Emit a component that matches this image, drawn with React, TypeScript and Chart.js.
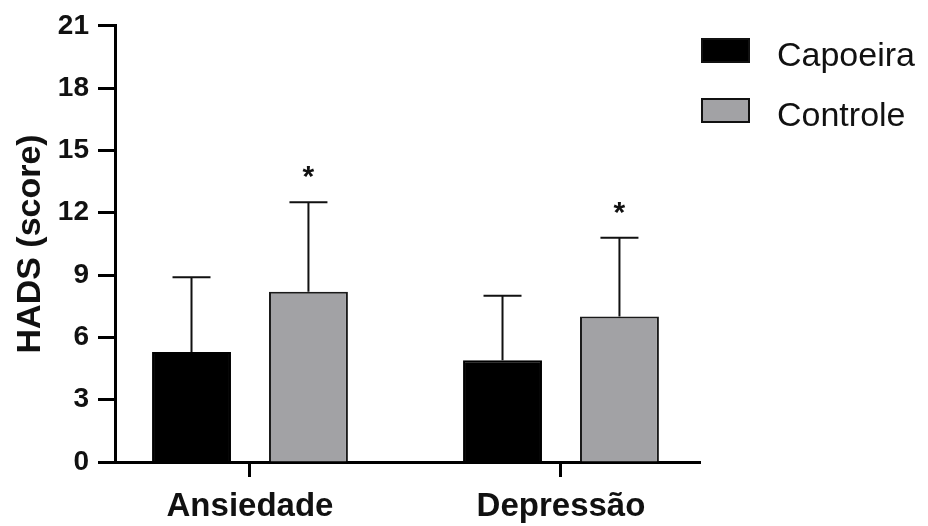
import React, { useEffect, useRef } from 'react';
import { Chart, registerables } from 'chart.js';

Chart.register(...registerables);

const categories = ['Ansiedade', 'Depressão'];
const seriesNames = ['Capoeira', 'Controle'];
const capoeiraMean = [5.3, 4.9];
const capoeiraSD = [3.6, 3.1];
const controleMean = [8.2, 7.0];
const controleSD = [4.3, 3.8];
const controleSignificant = [true, true];
const yTicks = [0, 3, 6, 9, 12, 15, 18, 21];

const FONT = "'Liberation Sans', Arial, Helvetica, sans-serif";

const errorBarPlugin = {
  id: 'errorBars',
  afterDatasetsDraw(chart: any) {
    const { ctx } = chart;
    const y = chart.scales.y;
    chart.data.datasets.forEach((ds: any, di: number) => {
      const meta = chart.getDatasetMeta(di);
      meta.data.forEach((bar: any, i: number) => {
        const mean = ds.data[i].y;
        const sd = ds.sd[i];
        const yBar = y.getPixelForValue(mean);
        const yTop = y.getPixelForValue(mean + sd);
        ctx.save();
        ctx.strokeStyle = '#111';
        ctx.lineWidth = 2;
        ctx.beginPath();
        ctx.moveTo(bar.x, yBar);
        ctx.lineTo(bar.x, yTop);
        ctx.moveTo(bar.x - 19, yTop);
        ctx.lineTo(bar.x + 19, yTop);
        ctx.stroke();
        if (ds.sig && ds.sig[i]) {
          ctx.fillStyle = '#111';
          ctx.font = `bold 30px ${FONT}`;
          ctx.textAlign = 'center';
          ctx.textBaseline = 'alphabetic';
          ctx.fillText('*', bar.x, yTop - 16);
        }
        ctx.restore();
      });
    });
  },
};

const legendPlugin = {
  id: 'customLegend',
  afterDraw(chart: any) {
    const { ctx } = chart;
    chart.data.datasets.forEach((ds: any, i: number) => {
      const bx = 701;
      const by = 38 + i * 60;
      ctx.save();
      ctx.fillStyle = ds.backgroundColor;
      ctx.fillRect(bx, by, 49, 25);
      ctx.strokeStyle = '#111';
      ctx.lineWidth = 2;
      ctx.strokeRect(bx + 1, by + 1, 47, 23);
      ctx.fillStyle = '#111';
      ctx.font = `34px ${FONT}`;
      ctx.textAlign = 'left';
      ctx.textBaseline = 'alphabetic';
      ctx.fillText(ds.label, 777, by + 28);
      ctx.restore();
    });
  },
};

export default function App() {
  const canvasRef = useRef<HTMLCanvasElement | null>(null);

  useEffect(() => {
    document.body.style.margin = '0';
    const canvas = canvasRef.current;
    if (!canvas) return;
    const chart = new Chart(canvas, {
      type: 'bar',
      data: {
        datasets: [
          {
            label: seriesNames[0],
            data: categories.map((_, i) => ({ x: i, y: capoeiraMean[i] })),
            sd: capoeiraSD,
            backgroundColor: '#000000',
            borderColor: '#000000',
            borderWidth: 2,
            borderSkipped: 'bottom',
          } as any,
          {
            label: seriesNames[1],
            data: categories.map((_, i) => ({ x: i, y: controleMean[i] })),
            sd: controleSD,
            sig: controleSignificant,
            backgroundColor: '#a2a2a5',
            borderColor: '#1a1a1a',
            borderWidth: 2,
            borderSkipped: 'bottom',
          } as any,
        ],
      },
      options: {
        animation: false,
        responsive: false,
        maintainAspectRatio: false,
        devicePixelRatio: 1,
        categoryPercentage: 0.752,
        barPercentage: 0.675,
        layout: { padding: { left: 0, top: 22, right: 228, bottom: 0 } },
        plugins: {
          legend: { display: false },
          tooltip: { enabled: false },
        },
        scales: {
          x: {
            type: 'linear',
            offset: false,
            min: -0.434,
            max: 1.447,
            afterBuildTicks: (scale: any) => {
              scale.ticks = categories.map((_, i) => ({ value: i }));
            },
            afterFit: (scale: any) => {
              scale.height = 64;
            },
            border: { display: true, color: '#000', width: 3 },
            grid: {
              display: true,
              offset: false,
              drawOnChartArea: false,
              drawTicks: true,
              tickLength: 15,
              tickWidth: 3,
              tickColor: '#000',
              color: '#000',
            },
            ticks: {
              padding: 10,
              color: '#111',
              font: { family: FONT, size: 33, weight: 'bold' },
              maxRotation: 0,
              autoSkip: false,
              callback: (v: any) => categories[v as number] ?? '',
            },
          } as any,
          y: {
            min: 0,
            max: 21,
            afterBuildTicks: (scale: any) => {
              scale.ticks = yTicks.map((v) => ({ value: v }));
            },
            afterFit: (scale: any) => {
              scale.width = 115;
            },
            border: { display: true, color: '#000', width: 3 },
            grid: {
              display: true,
              drawOnChartArea: false,
              drawTicks: true,
              tickLength: 17,
              tickWidth: 3,
              tickColor: '#000',
              color: '#000',
            },
            ticks: {
              padding: 9,
              color: '#111',
              font: { family: FONT, size: 28, weight: 'bold' },
              autoSkip: false,
            },
            title: {
              display: true,
              text: 'HADS (score)',
              color: '#111',
              font: { family: FONT, size: 34, weight: 'bold' },
              padding: { top: 10, bottom: 0 },
            },
          } as any,
        },
      } as any,
      plugins: [errorBarPlugin, legendPlugin],
    });
    return () => chart.destroy();
  }, []);

  return (
    <div style={{ width: 928, height: 526, background: '#fff' }}>
      <canvas ref={canvasRef} width={928} height={526} style={{ display: 'block' }} />
    </div>
  );
}
